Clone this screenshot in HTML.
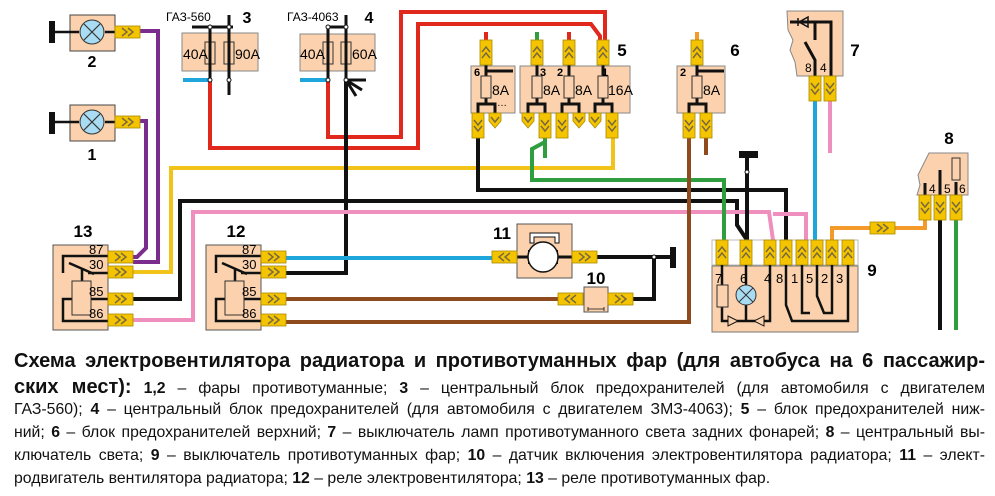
<!DOCTYPE html>
<html><head><meta charset="utf-8"><style>
html,body{margin:0;padding:0;background:#fff;}
body{width:995px;height:496px;position:relative;overflow:hidden;font-family:"Liberation Sans",sans-serif;}
svg{position:absolute;left:0;top:0;}
.cap{position:absolute;left:14px;width:971px;font-size:15.8px;line-height:23px;color:#111;text-align:justify;text-align-last:justify;white-space:nowrap;}
.cap b{font-weight:bold;}
</style></head><body>
<svg width="995" height="340" viewBox="0 0 995 340" font-family="Liberation Sans, sans-serif">
<defs>
<g id="hr"><rect x="0" y="0" width="25" height="12" fill="#f5c400" stroke="#a88a00" stroke-width="0.8"/><polyline points="7,2 12,6 7,10" fill="none" stroke="#7a6a40" stroke-width="1.5"/><polyline points="13,2 18,6 13,10" fill="none" stroke="#7a6a40" stroke-width="1.5"/></g>
<g id="hl"><rect x="0" y="0" width="25" height="12" fill="#f5c400" stroke="#a88a00" stroke-width="0.8"/><polyline points="18,2 13,6 18,10" fill="none" stroke="#7a6a40" stroke-width="1.5"/><polyline points="12,2 7,6 12,10" fill="none" stroke="#7a6a40" stroke-width="1.5"/></g>
<g id="vu"><rect x="0" y="0" width="12" height="25" fill="#f5c400" stroke="#a88a00" stroke-width="0.8"/><polyline points="2,12 6,7 10,12" fill="none" stroke="#7a6a40" stroke-width="1.5"/><polyline points="2,18 6,13 10,18" fill="none" stroke="#7a6a40" stroke-width="1.5"/></g>
<g id="vd"><rect x="0" y="0" width="12" height="25" fill="#f5c400" stroke="#a88a00" stroke-width="0.8"/><polyline points="2,7 6,12 10,7" fill="none" stroke="#7a6a40" stroke-width="1.5"/><polyline points="2,13 6,18 10,13" fill="none" stroke="#7a6a40" stroke-width="1.5"/></g>
<g id="vs"><path d="M0,0 H12 V8 L6,15 L0,8 Z" fill="#f5c400" stroke="#a88a00" stroke-width="0.8"/><polyline points="2,4 6,9 10,4" fill="none" stroke="#7a6a40" stroke-width="1.5"/></g>
</defs>

<g fill="none" stroke-linejoin="miter">
<path d="M140,31 H158 V262 H133" stroke="#7b2d8e" stroke-width="4"/>
<path d="M140,121 H146 V248 L137,257 H133" stroke="#7b2d8e" stroke-width="4"/>
<path d="M210,80 V148 H418 V24 H591 L600,36 V42" stroke="#e0281c" stroke-width="4"/>
<path d="M328,80 V137 H401 V12 H605 V42" stroke="#e0281c" stroke-width="4"/>
<path d="M133,272 H171 V168 H613 V138" stroke="#f2c419" stroke-width="4"/>
<path d="M133,299 H180 V201 H737 V225 L747,240" stroke="#111" stroke-width="4"/>
<path d="M478,138 V190 H786 V240" stroke="#111" stroke-width="4"/>
<path d="M346,80 V273 H285" stroke="#111" stroke-width="4"/>
<path d="M133,320 H193 V212 H769 L773,240" stroke="#ee8fbd" stroke-width="4"/>
<path d="M775,212 V214 H806 V240" stroke="#ee8fbd" stroke-width="4"/>
<path d="M830,100 V153" stroke="#ee8fbd" stroke-width="4"/>
<path d="M545,138 V158" stroke="#2e9e3e" stroke-width="4"/>
<path d="M545,142 L532,149 V180 H724 V240" stroke="#2e9e3e" stroke-width="4"/>
<path d="M689,138 V322 H285" stroke="#8f4a1e" stroke-width="4"/>
<path d="M706,138 V155" stroke="#8f4a1e" stroke-width="4"/>
<path d="M285,299 H558" stroke="#8f4a1e" stroke-width="4"/>
<path d="M285,258 H492" stroke="#1ea6dc" stroke-width="4"/>
<path d="M183,80 H210 M300,80 H328" stroke="#1ea6dc" stroke-width="4"/>
<path d="M815,100 V240" stroke="#1ea6dc" stroke-width="4"/>
<path d="M832,240 V228 H870 M894,228 H925 V220" stroke="#f39a2a" stroke-width="4"/>
<path d="M597,257 H654 V299 H633" stroke="#111" stroke-width="4"/>
<path d="M654,257 H670" stroke="#111" stroke-width="4"/>
<path d="M940,220 V330" stroke="#111" stroke-width="4"/>
<path d="M956,220 V330" stroke="#2e9e3e" stroke-width="4"/>
<path d="M486,32 V40 M569,32 V40" stroke="#e0281c" stroke-width="4"/>
<path d="M537,32 V40" stroke="#2e9e3e" stroke-width="4"/>
<path d="M697,32 V40" stroke="#f39a2a" stroke-width="4"/>
<path d="M747,158 V240" stroke="#111" stroke-width="4"/>
</g>
<rect x="739" y="151" width="19" height="7" fill="#111"/>
<circle cx="747" cy="172" r="2" fill="#fff" stroke="#111"/>
<rect x="670" y="247" width="6" height="21" fill="#111"/>
<circle cx="654" cy="257" r="2" fill="#fff" stroke="#111"/>

<g>
<rect x="70" y="15" width="45" height="36" fill="#fbd2ad" stroke="#444"/>
<rect x="49" y="21" width="6" height="22" fill="#111"/><line x1="55" y1="32" x2="79" y2="32" stroke="#111" stroke-width="2.5"/><line x1="105" y1="32" x2="115" y2="32" stroke="#111" stroke-width="2.5"/>
<circle cx="92" cy="32" r="12" fill="#a9dcf2" stroke="#333"/><path d="M84,24 L100,40 M100,24 L84,40" stroke="#333" stroke-width="1.2"/>
<use href="#hr" x="115" y="26"/>
<text x="92" y="67" font-size="16" font-weight="bold" text-anchor="middle">2</text>
<rect x="70" y="105" width="45" height="36" fill="#fbd2ad" stroke="#444"/>
<rect x="49" y="112" width="6" height="22" fill="#111"/><line x1="55" y1="122" x2="79" y2="122" stroke="#111" stroke-width="2.5"/><line x1="105" y1="122" x2="115" y2="122" stroke="#111" stroke-width="2.5"/>
<circle cx="92" cy="122" r="12" fill="#a9dcf2" stroke="#333"/><path d="M84,114 L100,130 M100,114 L84,130" stroke="#333" stroke-width="1.2"/>
<use href="#hr" x="115" y="116"/>
<text x="92" y="160" font-size="16" font-weight="bold" text-anchor="middle">1</text>
</g>

<g>
<rect x="182" y="33" width="76" height="38" fill="#fbd2ad" stroke="#888"/>
<rect x="205" y="42" width="10" height="22" fill="#fbd2ad" stroke="#333"/>
<rect x="224" y="42" width="10" height="22" fill="#fbd2ad" stroke="#333"/>
<path d="M192,27 H233 M210,27 V80 M229,15 V95" stroke="#111" stroke-width="3"/>
<circle cx="210" cy="27" r="2" fill="#fff" stroke="#111"/><circle cx="229" cy="27" r="2" fill="#fff" stroke="#111"/>
<circle cx="210" cy="80" r="2" fill="#fff" stroke="#111"/><circle cx="229" cy="80" r="2" fill="#fff" stroke="#111"/>
<text x="183" y="59" font-size="14">40A</text><text x="235" y="59" font-size="14">90A</text>
<text x="166" y="21" font-size="12">ГАЗ-560</text>
<text x="247" y="23" font-size="16" font-weight="bold" text-anchor="middle">3</text>
</g>
<g>
<rect x="300" y="34" width="75" height="37" fill="#fbd2ad" stroke="#888"/>
<rect x="323" y="42" width="10" height="22" fill="#fbd2ad" stroke="#333"/>
<rect x="341" y="42" width="10" height="22" fill="#fbd2ad" stroke="#333"/>
<path d="M328,27 H346 M328,27 V80 M346,15 V80" stroke="#111" stroke-width="3"/>
<path d="M346,80 H366 M346,80 L362,90 M346,80 L356,96" stroke="#111" stroke-width="3"/>
<circle cx="328" cy="27" r="2" fill="#fff" stroke="#111"/><circle cx="346" cy="27" r="2" fill="#fff" stroke="#111"/>
<circle cx="328" cy="80" r="2" fill="#fff" stroke="#111"/><circle cx="346" cy="80" r="2" fill="#fff" stroke="#111"/>
<text x="300" y="59" font-size="14">40A</text><text x="352" y="59" font-size="14">60A</text>
<text x="287" y="21" font-size="12">ГАЗ-4063</text>
<text x="369" y="23" font-size="16" font-weight="bold" text-anchor="middle">4</text>
</g>

<g>
<rect x="471" y="66" width="44" height="47" fill="#fbd2ad" stroke="#888"/>
<rect x="520" y="66" width="110" height="47" fill="#fbd2ad" stroke="#888"/>
<g stroke="#111" stroke-width="3" fill="none">
<path d="M486,65 V104 M478,113 V104 H495 V113 M486,71 H513"/>
<path d="M537,65 V104 M528,113 V104 H545 V113"/>
<path d="M569,65 V104 M562,113 V104 H579 V113"/>
<path d="M603,65 V104 M595,113 V104 H612 V113"/>
</g>
<rect x="481" y="76" width="10" height="22" fill="#fbd2ad" stroke="#333"/>
<rect x="532" y="76" width="10" height="22" fill="#fbd2ad" stroke="#333"/>
<rect x="564" y="76" width="10" height="22" fill="#fbd2ad" stroke="#333"/>
<rect x="598" y="76" width="10" height="22" fill="#fbd2ad" stroke="#333"/>
<g font-size="14"><text x="492" y="95">8A</text><text x="543" y="95">8A</text><text x="575" y="95">8A</text><text x="608" y="95">16A</text></g>
<g font-size="11" font-weight="bold"><text x="474" y="76">6</text><text x="540" y="76">3</text><text x="557" y="76">2</text><text x="602" y="76">1</text></g>
<text x="497" y="106" font-size="10">…</text>
<use href="#vu" x="480" y="40"/><use href="#vu" x="531" y="40"/><use href="#vu" x="563" y="40"/><use href="#vu" x="597" y="40"/>
<use href="#vd" x="472" y="113"/><use href="#vs" x="489" y="113"/>
<use href="#vs" x="522" y="113"/><use href="#vd" x="539" y="113"/><use href="#vd" x="556" y="113"/><use href="#vs" x="573" y="113"/><use href="#vs" x="589" y="113"/><use href="#vd" x="606" y="113"/>
<text x="622" y="56" font-size="17" font-weight="bold" text-anchor="middle">5</text>
</g>
<g>
<rect x="677" y="66" width="48" height="47" fill="#fbd2ad" stroke="#888"/>
<path d="M697,65 V104 M689,113 V104 H706 V113 M697,71 H724" stroke="#111" stroke-width="3" fill="none"/>
<rect x="692" y="76" width="10" height="22" fill="#fbd2ad" stroke="#333"/>
<text x="703" y="95" font-size="14">8A</text>
<text x="680" y="76" font-size="11" font-weight="bold">2</text>
<use href="#vu" x="691" y="40"/><use href="#vd" x="683" y="113"/><use href="#vd" x="700" y="113"/>
<text x="735" y="56" font-size="17" font-weight="bold" text-anchor="middle">6</text>
</g>
<g>
<path d="M787,11 H843 V76 H797 L795,62 L790,50 L793,40 L788,30 Z" fill="#fbd2ad" stroke="#888"/>
<path d="M790,22 H831 V76 M815,22 V40 M805,42 L815,60 V76" stroke="#111" stroke-width="3" fill="none"/>
<path d="M798,18 V26 M808,17 L799,22 L808,27 Z" stroke="#111" stroke-width="1.5" fill="none"/>
<text x="805" y="72" font-size="12">8</text><text x="820" y="72" font-size="12">4</text>
<use href="#vd" x="809" y="76"/><use href="#vd" x="824" y="76"/>
<text x="855" y="56" font-size="17" font-weight="bold" text-anchor="middle">7</text>
</g>
<g>
<path d="M929,153 H968 V195 H917 L920,185 L918,175 L923,165 Z" fill="#fbd2ad" stroke="#888"/>
<path d="M925,183 V195 M940,170 V195 M956,182 V195" stroke="#111" stroke-width="3"/>
<rect x="952" y="158" width="8" height="22" fill="#fbd2ad" stroke="#333"/>
<text x="929" y="193" font-size="12">4</text><text x="944" y="193" font-size="12">5</text><text x="959" y="193" font-size="12">6</text>
<use href="#vd" x="919" y="195"/><use href="#vd" x="934" y="195"/><use href="#vd" x="950" y="195"/>
<text x="949" y="144" font-size="17" font-weight="bold" text-anchor="middle">8</text>
</g>
<use href="#hr" x="870" y="222"/>

<g>
<rect x="712" y="240" width="146" height="25" fill="#fff" stroke="#bbb"/>
<rect x="712" y="266" width="146" height="66" fill="#fbd2ad" stroke="#777"/>
<use href="#vu" x="716" y="240"/><use href="#vu" x="740" y="240"/><use href="#vu" x="764" y="240"/><use href="#vu" x="780" y="240"/><use href="#vu" x="796" y="240"/><use href="#vu" x="811" y="240"/><use href="#vu" x="826" y="240"/><use href="#vu" x="842" y="240"/>
<g stroke="#111" stroke-width="2.5" fill="none">
<path d="M722,265 V321 H770 V265"/>
<path d="M746,265 V321"/>
<path d="M786,265 V305 L792,321 H848 V265"/>
<path d="M802,265 V313 H810"/>
<path d="M817,265 V296 L824,313 H832 V265"/>
</g>
<rect x="717" y="285" width="11" height="22" fill="#fbd2ad" stroke="#333"/>
<circle cx="746" cy="295" r="10" fill="#a9dcf2" stroke="#333"/><path d="M739,288 L753,302 M753,288 L739,302" stroke="#333"/>
<path d="M728,316 L738,321 L728,326 Z M764,316 L754,321 L764,326 Z" fill="#fbd2ad" stroke="#111"/>
<g font-size="13"><text x="715" y="283">7</text><text x="740" y="283">6</text><text x="764" y="283">4</text><text x="776" y="283">8</text><text x="791" y="283">1</text><text x="806" y="283">5</text><text x="821" y="283">2</text><text x="836" y="283">3</text></g>
<text x="872" y="276" font-size="17" font-weight="bold" text-anchor="middle">9</text>
</g>

<g>
<rect x="517" y="224" width="55" height="54" fill="#fbd2ad" stroke="#555"/>
<path d="M530,243 V233 H559 V243 H555 V237 H534 V243 Z" fill="#fff" stroke="#111"/>
<rect x="528" y="250" width="30" height="14" fill="#111"/>
<circle cx="543" cy="257" r="15" fill="#fff" stroke="#111" stroke-width="1.5"/>
<path d="M517,257 H528 M558,257 H572" stroke="#111" stroke-width="3"/>
<use href="#hl" x="492" y="251"/><use href="#hr" x="572" y="251"/>
<text x="502" y="239" font-size="17" font-weight="bold" text-anchor="middle">11</text>
</g>
<g>
<rect x="584" y="287" width="24" height="25" fill="#fbd2ad" stroke="#555"/>
<path d="M588,309 H604 M588,307 V311 M604,307 V311" stroke="#111" stroke-width="0.8"/>
<use href="#hl" x="558" y="293"/><use href="#hr" x="608" y="293"/>
<text x="596" y="284" font-size="17" font-weight="bold" text-anchor="middle">10</text>
</g>

<g>
<rect x="53" y="245" width="55" height="85" fill="#fbd2ad" stroke="#555"/>
<g stroke="#111" stroke-width="2.5" fill="none">
<path d="M108,256 H63 V273"/><path d="M108,273 H88"/><path d="M69,263 L94,274"/><path d="M82,269 V281"/>
<path d="M108,299 H63 V321 H108"/>
</g>
<rect x="72" y="281" width="19" height="34" fill="#fbd2ad" stroke="#333"/>
<g font-size="13"><text x="89" y="254">87</text><text x="89" y="269">30</text><text x="89" y="296">85</text><text x="89" y="318">86</text></g>
<use href="#hr" x="108" y="251"/><use href="#hr" x="108" y="266"/><use href="#hr" x="108" y="293"/><use href="#hr" x="108" y="314"/>
<text x="83" y="237" font-size="17" font-weight="bold" text-anchor="middle">13</text>
</g>
<g>
<rect x="206" y="245" width="55" height="85" fill="#fbd2ad" stroke="#555"/>
<g stroke="#111" stroke-width="2.5" fill="none">
<path d="M261,256 H216 V273"/><path d="M261,273 H241"/><path d="M222,263 L247,274"/><path d="M235,269 V281"/>
<path d="M261,299 H216 V321 H261"/>
</g>
<rect x="225" y="281" width="19" height="34" fill="#fbd2ad" stroke="#333"/>
<g font-size="13"><text x="242" y="254">87</text><text x="242" y="269">30</text><text x="242" y="296">85</text><text x="242" y="318">86</text></g>
<use href="#hr" x="261" y="251"/><use href="#hr" x="261" y="266"/><use href="#hr" x="261" y="293"/><use href="#hr" x="261" y="314"/>
<text x="236" y="237" font-size="17" font-weight="bold" text-anchor="middle">12</text>
</g>
</svg>

<div class="cap" style="top:350px;font-size:20px;font-weight:bold;">Схема электровентилятора радиатора и противотуманных фар (для автобуса на 6 пассажир-</div>
<div class="cap" style="top:376px;"><b style="font-size:20px;">ских мест):</b> <b>1,2</b> – фары противотуманные; <b>3</b> – центральный блок предохранителей (для автомобиля с двигателем</div>
<div class="cap" style="top:398px;">ГАЗ-560); <b>4</b> – центральный блок предохранителей (для автомобиля с двигателем ЗМЗ-4063); <b>5</b> – блок предохранителей ниж-</div>
<div class="cap" style="top:421px;">ний; <b>6</b> – блок предохранителей верхний; <b>7</b> – выключатель ламп противотуманного света задних фонарей; <b>8</b> – центральный вы-</div>
<div class="cap" style="top:444px;">ключатель света; <b>9</b> – выключатель противотуманных фар; <b>10</b> – датчик включения электровентилятора радиатора; <b>11</b> – элект-</div>
<div class="cap" style="top:467px;text-align-last:left;">родвигатель вентилятора радиатора; <b>12</b> – реле электровентилятора; <b>13</b> – реле противотуманных фар.</div>
</body></html>
